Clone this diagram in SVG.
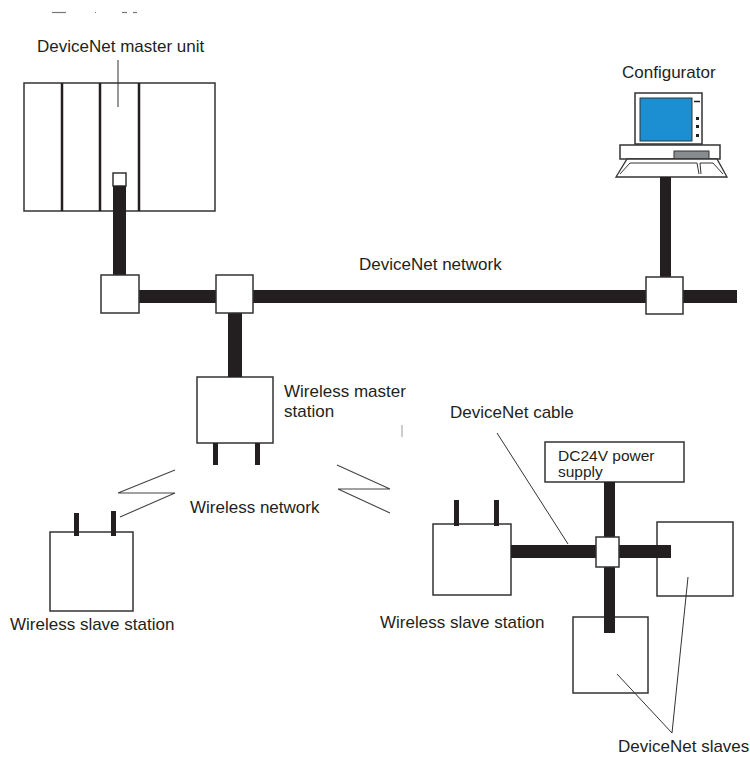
<svg xmlns="http://www.w3.org/2000/svg" width="750" height="763" viewBox="0 0 750 763">
<style>
  text { font-family: "Liberation Sans", Arial, sans-serif; font-size: 17px; fill: #231f20; }
  .small { font-size: 15.5px; }
  .box { fill: #ffffff; stroke: #333333; stroke-width: 1.5; }
  .cable { fill: #231f20; }
  .lead { fill: none; stroke: #333333; stroke-width: 1; }
  .zig { fill: none; stroke: #444444; stroke-width: 1.1; }
  .div { stroke: #231f20; stroke-width: 2.5; }
</style>
<rect width="750" height="763" fill="#ffffff"/>

<!-- remnant marks at top edge -->
<g id="top-marks" stroke="#777777" stroke-width="1.2">
  <line x1="52" y1="12.5" x2="66" y2="12.5"/>
  <line x1="95" y1="12.5" x2="96" y2="12.5"/>
  <line x1="122" y1="12.5" x2="127" y2="12.5"/>
  <line x1="133" y1="12.5" x2="137" y2="12.5"/>
</g>

<!-- nodes drawn beneath cables -->
<g id="master-unit">
  <rect class="box" x="24" y="83" width="191" height="128"/>
  <line class="div" x1="62" y1="83" x2="62" y2="211"/>
  <line class="div" x1="100" y1="83" x2="100" y2="211"/>
  <line class="div" x1="139" y1="83" x2="139" y2="211"/>
  <rect class="box" x="113" y="173" width="13" height="13"/>
  <text x="37" y="52">DeviceNet master unit</text>
</g>

<g id="configurator">
  <text x="622" y="78">Configurator</text>
  <rect x="635" y="93" width="67" height="51" fill="#ffffff" stroke="#333333" stroke-width="1.5"/>
  <rect x="640" y="98" width="52" height="43" fill="#1b8fd2" stroke="#333333" stroke-width="1"/>
  <line x1="694" y1="101.5" x2="700" y2="101.5" stroke="#231f20" stroke-width="1.5"/>
  <rect x="696" y="117" width="3" height="3" fill="#231f20"/>
  <rect x="696" y="125" width="3" height="3" fill="#231f20"/>
  <rect x="696" y="134" width="3" height="3" fill="#231f20"/>
  <rect x="620" y="145" width="100" height="14" fill="#ffffff" stroke="#333333" stroke-width="1.5"/>
  <rect x="674" y="151" width="35" height="8" fill="#888c8f" stroke="#333333" stroke-width="1"/>
  <polygon points="627,159 717,159 727,177 616,177" fill="#ffffff" stroke="#333333" stroke-width="1.3"/>
  <polyline points="620,174 630,163 697,163 699,174" fill="none" stroke="#333333" stroke-width="1"/>
  <polyline points="701,174 700,163 713,163 723,174" fill="none" stroke="#333333" stroke-width="1"/>
</g>

<g id="wireless-master-station">
  <rect class="box" x="197" y="377" width="76" height="66"/>
  <text x="284" y="397">Wireless master</text>
  <text x="284" y="417">station</text>
</g>

<g id="wireless-slave-left">
  <rect class="box" x="50" y="532" width="83" height="79"/>
  <text x="10" y="630">Wireless slave station</text>
</g>

<g id="wireless-slave-right">
  <rect class="box" x="433" y="524" width="78" height="71"/>
  <text x="380" y="628">Wireless slave station</text>
</g>

<g id="power-supply">
  <rect class="box" x="545" y="442" width="139" height="40"/>
  <text class="small" x="558" y="461">DC24V power</text>
  <text class="small" x="558" y="477">supply</text>
</g>

<g id="devicenet-slave-right">
  <rect class="box" x="657" y="522" width="76" height="74"/>
</g>

<g id="devicenet-slave-bottom">
  <rect class="box" x="573" y="617" width="75" height="76"/>
</g>

<!-- connectors -->
<g id="connectors">
  <rect class="cable" x="120" y="290" width="617" height="13"/>
  <rect class="cable" x="113" y="186" width="13" height="90"/>
  <rect class="cable" x="660" y="177" width="11" height="101"/>
  <rect class="cable" x="228" y="312" width="14" height="65"/>
  <rect class="cable" x="213" y="443" width="5" height="22"/>
  <rect class="cable" x="255" y="443" width="5" height="22"/>
  <rect class="cable" x="74" y="513" width="5" height="23"/>
  <rect class="cable" x="111" y="511" width="5" height="25"/>
  <rect class="cable" x="454" y="500" width="5" height="26"/>
  <rect class="cable" x="494" y="500" width="5" height="26"/>
  <rect class="cable" x="511" y="545" width="160" height="13"/>
  <rect class="cable" x="604" y="482" width="11" height="151"/>
  <polyline class="zig" points="175,470 118,493 175,493 120,517"/>
  <polyline class="zig" points="337,465 390,489 338,489 390,513"/>
  <text x="190" y="513">Wireless network</text>
  <text x="359" y="270">DeviceNet network</text>
  <line class="lead" x1="118" y1="60" x2="118" y2="107"/>
  <line class="lead" x1="497" y1="433" x2="568" y2="544"/>
  <text x="450" y="418">DeviceNet cable</text>
  <line class="lead" x1="617" y1="674" x2="672" y2="733"/>
  <line class="lead" x1="688" y1="577" x2="672" y2="733"/>
  <text x="618" y="752">DeviceNet slaves</text>
  <line x1="402" y1="425" x2="402" y2="437" stroke="#999999" stroke-width="1"/>
</g>

<!-- connector (tap) boxes on top -->
<g id="tap-1"><rect class="box" x="101" y="275" width="38" height="38"/></g>
<g id="tap-2"><rect class="box" x="216" y="275" width="37" height="38"/></g>
<g id="tap-3"><rect class="box" x="646" y="277" width="37" height="37"/></g>
<g id="tap-4"><rect class="box" x="596" y="537" width="23" height="30"/></g>
</svg>
